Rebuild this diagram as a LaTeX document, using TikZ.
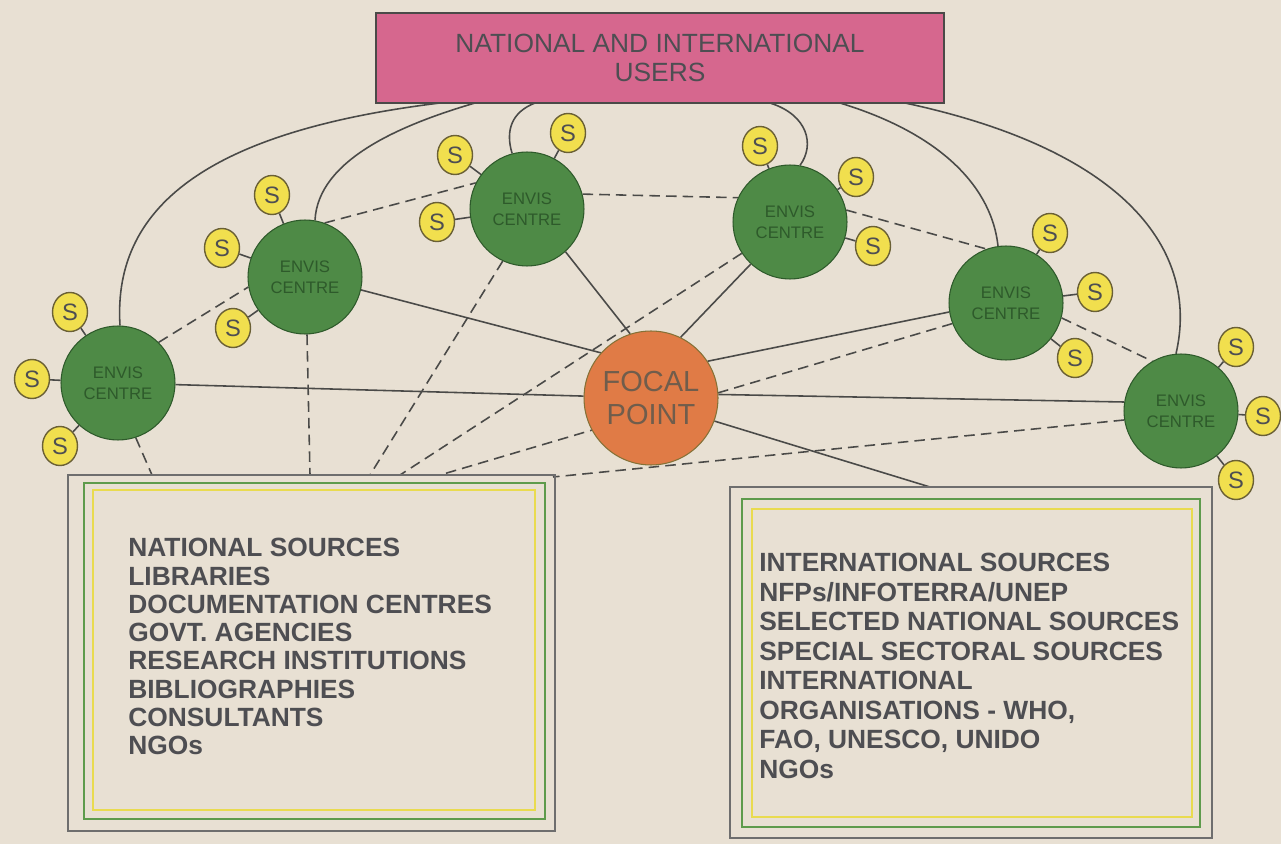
\documentclass[tikz,border=0pt]{standalone}
\usepackage{fontspec}
\setmainfont{Liberation Sans}
\usetikzlibrary{shapes.geometric}
\definecolor{bgc}{HTML}{E8E0D3}
\definecolor{pinkbox}{HTML}{D6678E}
\definecolor{envis}{HTML}{4E8A46}
\definecolor{envisdark}{HTML}{2E5A2B}
\definecolor{focal}{HTML}{E07B46}
\definecolor{sfill}{HTML}{F1DF4E}
\definecolor{sline}{HTML}{6A6035}
\definecolor{lineclr}{HTML}{4A4A48}
\definecolor{txt}{HTML}{4E4E52}
\definecolor{brdgreen}{HTML}{5E9B4C}
\definecolor{brdyellow}{HTML}{E9DB4F}
\definecolor{brdgray}{HTML}{6E6E6E}
\pgfdeclarelayer{back}
\pgfdeclarelayer{edges}
\pgfsetlayers{back,edges,main}
\begin{document}
\begin{tikzpicture}[x=0.02cm,y=-0.02cm,
  centre/.style={circle,fill=envis,draw=envisdark,line width=0.6pt,minimum size=2.28cm,inner sep=0pt,align=center,font=\fontsize{9.5}{12}\selectfont,text=envisdark},
  src/.style={ellipse,fill=sfill,draw=sline,line width=0.8pt,minimum width=0.70cm,minimum height=0.78cm,inner sep=0pt,font=\fontsize{13.5}{13.5}\selectfont,text=txt},
  link/.style={draw=lineclr,line width=0.9pt},
  dlink/.style={draw=lineclr,line width=0.9pt,dash pattern=on 6pt off 3.5pt},
  srcbox/.style={draw=brdgray,line width=0.8pt,rectangle,inner sep=0pt},
  srctext/.style={anchor=north west,inner sep=0pt,align=left,text=txt,font=\bfseries\fontsize{15}{16.1}\selectfont}]
\begin{pgfonlayer}{back}
\fill[bgc] (0,0) rectangle (1281,844);
\end{pgfonlayer}
\useasboundingbox (0,0) rectangle (1281,844);

% users box
\node[draw=lineclr,line width=0.8pt,fill=pinkbox,minimum width=11.36cm,minimum height=1.8cm,align=center,text=txt,font=\fontsize{15}{16.4}\selectfont] (users) at (660,58) {NATIONAL AND INTERNATIONAL\\USERS};

% centres
\node[centre] (c1) at (118,383) {ENVIS\\CENTRE};
\node[centre] (c2) at (305,277) {ENVIS\\CENTRE};
\node[centre] (c3) at (527,209) {ENVIS\\CENTRE};
\node[centre] (c4) at (790,222) {ENVIS\\CENTRE};
\node[centre] (c5) at (1006,303) {ENVIS\\CENTRE};
\node[centre] (c6) at (1181,411) {ENVIS\\CENTRE};

\node[circle,fill=focal,draw=envisdark!40!brown,line width=0.6pt,minimum size=2.68cm,inner sep=0pt,align=center,text=txt!70!brown,font=\fontsize{16.5}{18.7}\selectfont] (fp) at (651,398) {FOCAL\\POINT};

% sources
\node[src] (s11) at (70,312) {S};
\node[src] (s12) at (32,379) {S};
\node[src] (s13) at (60,446) {S};
\node[src] (s21) at (272,195) {S};
\node[src] (s22) at (222,248) {S};
\node[src] (s23) at (233,328) {S};
\node[src] (s31) at (455,155) {S};
\node[src] (s32) at (568,133) {S};
\node[src] (s33) at (437,222) {S};
\node[src] (s41) at (760,146) {S};
\node[src] (s42) at (856,177) {S};
\node[src] (s43) at (873,246) {S};
\node[src] (s51) at (1050,233) {S};
\node[src] (s52) at (1095,292) {S};
\node[src] (s53) at (1075,358) {S};
\node[src] (s61) at (1236,347) {S};
\node[src] (s62) at (1263,416) {S};
\node[src] (s63) at (1236,480) {S};

% source boxes
\node[srcbox,minimum width=9.74cm,minimum height=7.12cm] (lbox) at (311.5,653) {};
\draw[brdgreen,line width=1.1pt] (84,483) rectangle (545,819);
\draw[brdyellow,line width=1.1pt] (93,490) rectangle (535,810);
\node[srctext] (ltext) at (128,538) {NATIONAL SOURCES\\LIBRARIES\\DOCUMENTATION CENTRES\\GOVT. AGENCIES\\RESEARCH INSTITUTIONS\\BIBLIOGRAPHIES\\CONSULTANTS\\NGOs};

\node[srcbox,minimum width=9.64cm,minimum height=7.02cm] (rbox) at (971,662.5) {};
\draw[brdgreen,line width=1.1pt] (742,499) rectangle (1200,827);
\draw[brdyellow,line width=1.1pt] (752,509) rectangle (1192,817);
\node[srctext,font=\bfseries\fontsize{15}{16.8}\selectfont] (rtext) at (759,553) {INTERNATIONAL SOURCES\\NFPs/INFOTERRA/UNEP\\SELECTED NATIONAL SOURCES\\SPECIAL SECTORAL SOURCES\\INTERNATIONAL\\ORGANISATIONS - WHO,\\FAO, UNESCO, UNIDO\\NGOs};

% free ends
\coordinate (u1) at (440,103);
\coordinate (u2) at (475,103);
\coordinate (u3) at (535,103);
\coordinate (u4) at (770,103);
\coordinate (u5) at (840,103);
\coordinate (u6) at (905,103);
\coordinate (l1) at (152,475);
\coordinate (l2) at (310,475);
\coordinate (l3) at (370,475);
\coordinate (l4) at (400,475);
\coordinate (l5) at (440,475);
\coordinate (l6) at (553,477);
\coordinate (r1) at (930,487);

\begin{pgfonlayer}{edges}
% users to centres
\draw[link] (u1) .. controls (220,130) and (112,200) .. (c1.88);
\draw[link] (u2) .. controls (400,125) and (318,160) .. (c2.80);
\draw[link] (u3) .. controls (512,112) and (505,130) .. (c3.105);
\draw[link] (u4) .. controls (808,115) and (815,145) .. (c4.80);
\draw[link] (u5) .. controls (945,135) and (992,190) .. (c5.98);
\draw[link] (u6) .. controls (1125,150) and (1200,250) .. (c6.95);
% sources
\foreach \c/\s in {c1/s11,c1/s12,c1/s13,c2/s21,c2/s22,c2/s23,c3/s31,c3/s32,c3/s33,c4/s41,c4/s42,c4/s43,c5/s51,c5/s52,c5/s53,c6/s61,c6/s62,c6/s63}
  \draw[link] (\s) -- (\c);
% centres to focal point
\draw[link] (c1) -- (fp);
\draw[link] (c2.-13) -- (fp.138);
\draw[link] (c3.-48) -- (fp.108);
\draw[link] (c4.227) -- (fp.64);
\draw[link] (c5.189) -- (fp.33);
\draw[link] (fp.3) -- (c6.171);
\draw[link] (fp.-20) -- (r1);
% dashed ring
\draw[dlink] (c1.45) -- (c2.190);
\draw[dlink] (c2.70) -- (c3.153);
\draw[dlink] (c3.15) -- (c4.155);
\draw[dlink] (c4.12) -- (c5.110);
\draw[dlink] (c5.-15) -- (c6.120);
% dashed to national sources
\draw[dlink] (c1.-72) -- (l1);
\draw[dlink] (c2.-88) -- (l2);
\draw[dlink] (c3.-115) -- (l3);
\draw[dlink] (c4.213) -- (l4);
\draw[dlink] (c5.201) -- (l5);
\draw[dlink] (c6.189) -- (l6);
\end{pgfonlayer}
\end{tikzpicture}
\end{document}
